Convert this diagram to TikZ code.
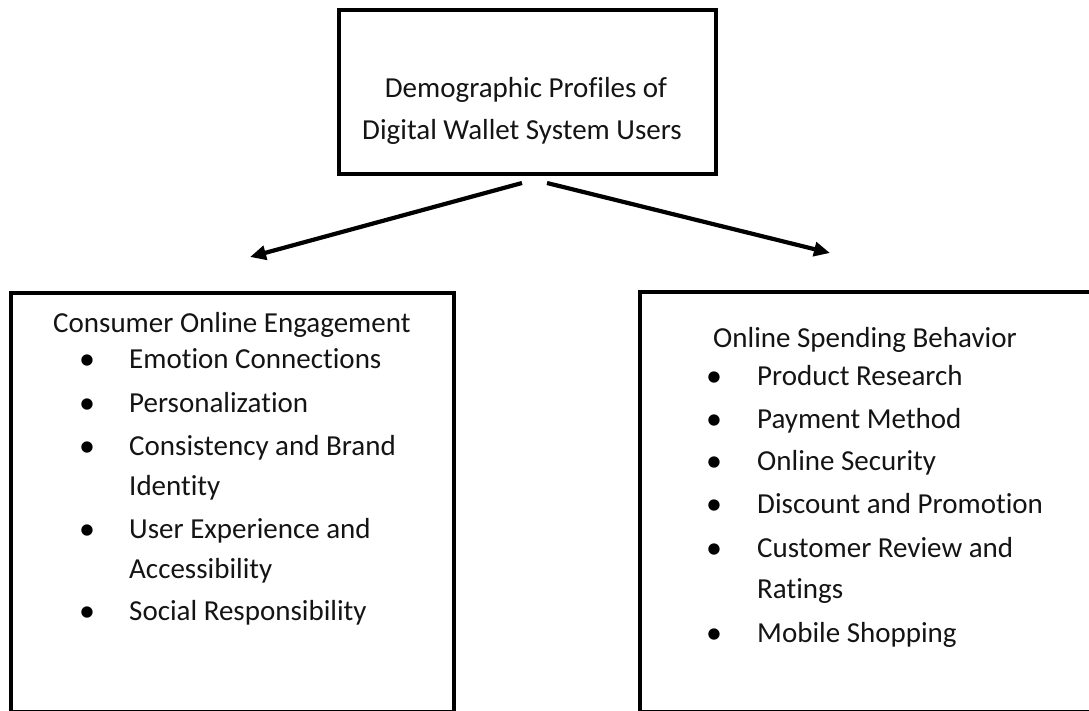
\documentclass[tikz,border=0pt]{standalone}
\usepackage{fontspec}
\setmainfont{Carlito}[Ligatures={NoCommon}]
\usetikzlibrary{arrows.meta}
\begin{document}
\begin{tikzpicture}[x=1pt,y=-1pt,
  panel/.style 2 args={draw=black, line width=#1, inner sep=0pt, minimum width=#2},
  txt/.style={anchor=base west, inner sep=0pt, font=\fontsize{29}{35}\selectfont, text=black!92},
  ctxt/.style={anchor=base, inner sep=0pt, font=\fontsize{29}{35}\selectfont, text=black!92},
  bul/.style={anchor=center, inner sep=0pt, font=\fontsize{32}{36}\selectfont, text=black},
  link/.style={draw=black, line width=4.2pt, -{Triangle[length=16pt,width=14pt]}}
]
\useasboundingbox (0,0) rectangle (1089,711);
\clip (0,0) rectangle (1089,711);

% top box
\node[panel={4.6pt}{377pt}, minimum height=164pt] (top) at (527.5,92) {};
\node[ctxt] (t1) at (526,98) {Demographic Profiles of};
\node[ctxt] (t2) at (522,140) {Digital Wallet System Users};

% left box
\node[panel={4.3pt}{443pt}, minimum height=419pt] (left) at (232.5,502.5) {};
\node[txt] (lt) at (53,332) {Consumer Online Engagement};
\node[bul] (lb1) at (87,362.5) {•};
\node[txt] (li1) at (129,368) {Emotion Connections};
\node[bul] (lb2) at (87,406.5) {•};
\node[txt] (li2) at (129,412) {Personalization};
\node[bul] (lb3) at (87,449.5) {•};
\node[txt] (li3) at (129,455) {Consistency and Brand};
\node[txt] (li3b) at (129,495) {Identity};
\node[bul] (lb4) at (87,532.5) {•};
\node[txt] (li4) at (129,538) {User Experience and};
\node[txt] (li4b) at (129,578) {Accessibility};
\node[bul] (lb5) at (87,614.5) {•};
\node[txt] (li5) at (129,620) {Social Responsibility};

% right box
\node[panel={4.3pt}{470pt}, minimum height=420pt] (right) at (875,502) {};
\node[txt] (rt) at (713,347) {Online Spending Behavior};
\node[bul] (rb1) at (714,379.5) {•};
\node[txt] (ri1) at (757,385) {Product Research};
\node[bul] (rb2) at (714,422.5) {•};
\node[txt] (ri2) at (757,428) {Payment Method};
\node[bul] (rb3) at (714,464.5) {•};
\node[txt] (ri3) at (757,470) {Online Security};
\node[bul] (rb4) at (714,507.5) {•};
\node[txt] (ri4) at (757,513) {Discount and Promotion};
\node[bul] (rb5) at (714,551.5) {•};
\node[txt] (ri5) at (757,557) {Customer Review and};
\node[txt] (ri5b) at (757,598) {Ratings};
\node[bul] (rb6) at (714,636.5) {•};
\node[txt] (ri6) at (757,642) {Mobile Shopping};

% arrows fanning out below the top box
\coordinate (ls) at (522,183);
\coordinate (le) at (250,257);
\coordinate (rs) at (547,183);
\coordinate (re) at (830,253);
\draw[link] (ls) -- (le);
\draw[link] (rs) -- (re);
\end{tikzpicture}
\end{document}
